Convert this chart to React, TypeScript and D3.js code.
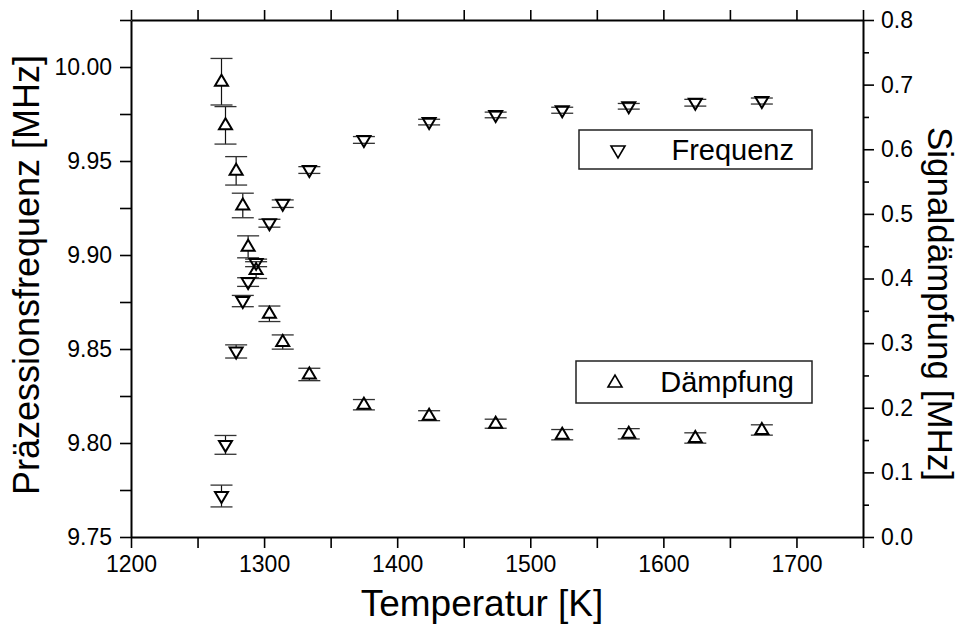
import React, { useEffect, useRef } from 'react';
import * as d3 from 'd3';

// Measurement temperatures [K], shared by both series
const temperatures = [1268, 1271, 1279, 1284, 1288, 1294, 1304, 1314, 1334, 1375, 1424, 1474, 1524, 1574, 1624, 1674];
// Precession frequency [MHz] and its uncertainty
const frequency = [9.7718, 9.799, 9.8487, 9.8755, 9.8856, 9.8958, 9.9169, 9.9273, 9.9452, 9.9612, 9.9707, 9.9745, 9.977, 9.9791, 9.981, 9.9819];
const frequencyErr = [0.0058, 0.005, 0.0035, 0.003, 0.0023, 0.002, 0.0021, 0.002, 0.0018, 0.0018, 0.0015, 0.0015, 0.0016, 0.0015, 0.0018, 0.0016];
// Signal damping [MHz] and its uncertainty
const damping = [0.7045, 0.637, 0.5666, 0.513, 0.449, 0.413, 0.3454, 0.3017, 0.2515, 0.2047, 0.1877, 0.1753, 0.1583, 0.1597, 0.1532, 0.1656];
const dampingErr = [0.036, 0.029, 0.022, 0.019, 0.017, 0.013, 0.012, 0.011, 0.0096, 0.008, 0.0077, 0.007, 0.008, 0.008, 0.008, 0.008];

const tempTicks = [1200, 1250, 1300, 1350, 1400, 1450, 1500, 1550, 1600, 1650, 1700, 1750];
const freqTicks = [9.75, 9.775, 9.8, 9.825, 9.85, 9.875, 9.9, 9.925, 9.95, 9.975, 10.0, 10.025];
const dampTicks = [0, 0.1, 0.2, 0.3, 0.4, 0.5, 0.6, 0.7, 0.8];
const dampMinorTicks = [0.05, 0.15, 0.25, 0.35, 0.45, 0.55, 0.65, 0.75];

const FONT = '"Liberation Sans", Arial, sans-serif';

export default function App() {
  const ref = useRef<SVGSVGElement>(null);

  useEffect(() => {
    const svg = d3.select(ref.current);
    svg.selectAll('*').remove();

    const left = 131, right = 863, top = 20, bottom = 537;
    const x = d3.scaleLinear().domain([1200, 1750]).range([left, right]);
    const yF = d3.scaleLinear().domain([9.75, 10.025]).range([bottom, top]);
    const yD = d3.scaleLinear().domain([0, 0.8]).range([bottom, top]);

    const styleAxis = (g: d3.Selection<SVGGElement, unknown, null, undefined>, size: number) => {
      g.attr('font-family', FONT).attr('font-size', size);
      g.select('.domain').attr('stroke', '#000').attr('stroke-width', 2);
      g.selectAll('.tick line').attr('stroke', '#000').attr('stroke-width', 1.6);
      g.selectAll('.tick text').attr('fill', '#000');
    };

    // bottom axis
    const gB = svg.append('g').attr('transform', `translate(0,${bottom})`)
      .call(d3.axisBottom(x).tickValues(tempTicks).tickSize(11).tickSizeOuter(0).tickPadding(8)
        .tickFormat((d) => (+d % 100 === 0 && +d < 1750 ? String(d) : '')));
    styleAxis(gB as any, 23);

    // top axis (ticks only)
    const gT = svg.append('g').attr('transform', `translate(0,${top})`)
      .call(d3.axisTop(x).tickValues(tempTicks).tickSize(10).tickSizeOuter(0).tickFormat(() => ''));
    styleAxis(gT as any, 23);

    // left axis
    const gL = svg.append('g').attr('transform', `translate(${left},0)`)
      .call(d3.axisLeft(yF).tickValues(freqTicks).tickSize(11).tickSizeOuter(0).tickPadding(8)
        .tickFormat((d) => {
          const r = Math.round(+d * 1000) / 1000;
          return Math.abs(Math.round(r * 20) - r * 20) < 1e-6 && r <= 10.0001 ? d3.format('.2f')(r) : '';
        }));
    styleAxis(gL as any, 23);

    // right axis
    const gR = svg.append('g').attr('transform', `translate(${right},0)`)
      .call(d3.axisRight(yD).tickValues(dampTicks).tickSize(11).tickSizeOuter(0).tickPadding(7)
        .tickFormat(d3.format('.1f')));
    styleAxis(gR as any, 23);
    const gRm = svg.append('g').attr('transform', `translate(${right},0)`)
      .call(d3.axisRight(yD).tickValues(dampMinorTicks).tickSize(6).tickSizeOuter(0).tickFormat(() => ''));
    styleAxis(gRm as any, 23);
    gRm.select('.domain').remove();

    // error bars, drawn outside of the open symbols
    const drawBars = (vals: number[], errs: number[], y: d3.ScaleLinear<number, number>, upExt: number, downExt: number) => {
      const g = svg.append('g').attr('stroke', '#111').attr('fill', 'none');
      vals.forEach((v, i) => {
        const cx = x(temperatures[i]);
        const cy = y(v);
        const y1 = y(v + errs[i]);
        const y2 = y(v - errs[i]);
        if (cy - upExt > y1) g.append('line').attr('x1', cx).attr('x2', cx).attr('y1', y1).attr('y2', cy - upExt).attr('stroke-width', 1.2);
        if (cy + downExt < y2) g.append('line').attr('x1', cx).attr('x2', cx).attr('y1', cy + downExt).attr('y2', y2).attr('stroke-width', 1.2);
        g.append('line').attr('x1', cx - 11).attr('x2', cx + 11).attr('y1', y1).attr('y2', y1).attr('stroke-width', 1.3).attr('stroke', '#333');
        g.append('line').attr('x1', cx - 11).attr('x2', cx + 11).attr('y1', y2).attr('y2', y2).attr('stroke-width', 1.3).attr('stroke', '#333');
      });
    };

    const upTri = (cx: number, cy: number, w = 6.5, a = 7, b = 4) =>
      `M${cx - w},${cy + b}L${cx},${cy - a}L${cx + w},${cy + b}Z`;
    const downTri = (cx: number, cy: number, w = 6.5, a = 7, b = 4) =>
      `M${cx - w},${cy - b}L${cx + w},${cy - b}L${cx},${cy + a}Z`;

    drawBars(frequency, frequencyErr, yF, 4, 7);
    drawBars(damping, dampingErr, yD, 7, 4);

    svg.append('g').selectAll('path').data(frequency).join('path')
      .attr('d', (v, i) => downTri(x(temperatures[i]), yF(v)))
      .attr('fill', 'none').attr('stroke', '#000').attr('stroke-width', 2).attr('stroke-linejoin', 'miter');
    svg.append('g').selectAll('path').data(damping).join('path')
      .attr('d', (v, i) => upTri(x(temperatures[i]), yD(v)))
      .attr('fill', 'none').attr('stroke', '#000').attr('stroke-width', 2).attr('stroke-linejoin', 'miter');

    // legends
    const legend = (bx: number, by: number, bw: number, bh: number, sym: string, label: string, ty: number) => {
      const g = svg.append('g');
      g.append('rect').attr('x', bx).attr('y', by).attr('width', bw).attr('height', bh)
        .attr('fill', '#fff').attr('stroke', '#222').attr('stroke-width', 1.5);
      g.append('path').attr('d', sym).attr('fill', 'none').attr('stroke', '#000').attr('stroke-width', 1.6);
      g.append('text').attr('x', bx + bw - 18).attr('y', ty).attr('text-anchor', 'end')
        .attr('font-family', FONT).attr('font-size', 29).attr('fill', '#000').text(label);
    };
    legend(579, 130, 233, 39, downTri(618, 151, 7, 7, 5), 'Frequenz', 160);
    legend(576, 361, 236, 42, upTri(615, 382, 7, 7, 5), 'Dämpfung', 392);

    // axis titles
    svg.append('text').attr('x', 482).attr('y', 616).attr('text-anchor', 'middle')
      .attr('font-family', FONT).attr('font-size', 37).attr('fill', '#000').text('Temperatur [K]');
    svg.append('text').attr('transform', 'translate(39,275) rotate(-90)').attr('text-anchor', 'middle')
      .attr('font-family', FONT).attr('font-size', 36).attr('fill', '#000').text('Präzessionsfrequenz [MHz]');
    svg.append('text').attr('transform', 'translate(928,304) rotate(90)').attr('text-anchor', 'middle')
      .attr('font-family', FONT).attr('font-size', 35).attr('fill', '#000').text('Signaldämpfung [MHz]');
  }, []);

  return (
    <svg ref={ref} width={961} height={628}
      style={{ position: 'absolute', left: 0, top: 0, background: '#fff', display: 'block' }} />
  );
}
